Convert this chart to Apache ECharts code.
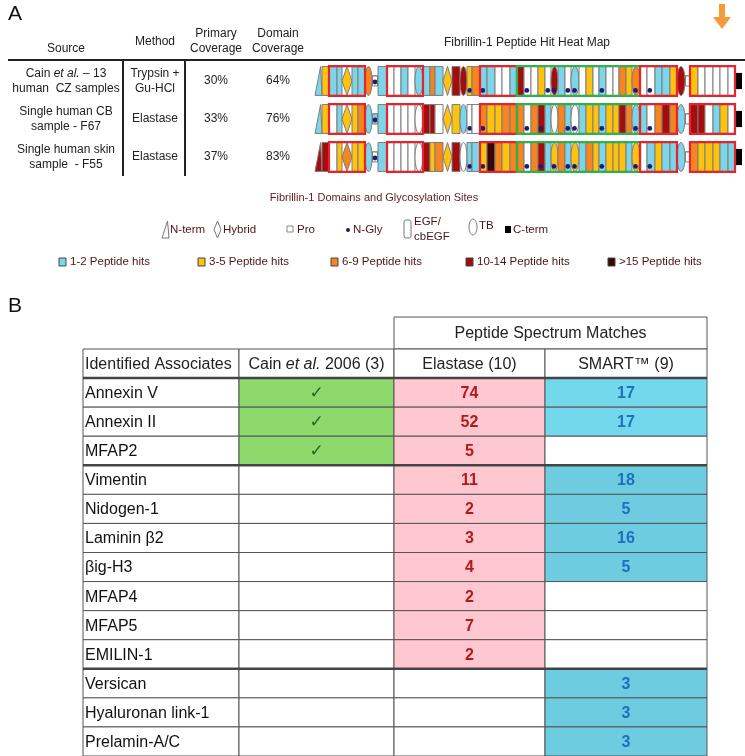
<!DOCTYPE html>
<html>
<head>
<meta charset="utf-8">
<script src="https://cdn.jsdelivr.net/npm/echarts@6/dist/echarts.min.js"></script>
<style>
  html, body { margin: 0; padding: 0; background: #fff; }
  #chart { width: 745px; height: 756px; }
</style>
</head>
<body>
<div id="chart"></div>
<script>
// ---------------- Part A: fibrillin-1 peptide hit map ----------------
const samples = ['CZ', 'CB', 'Skin'];
const sourceLines = [['{n|Cain }{i|et al.}{n| – 13}', 'human  CZ samples'], ['Single human CB', 'sample - F67'], ['Single human skin', 'sample  - F55']];
const methodLines = [['Trypsin +', 'Gu-HCl'], ['Elastase'], ['Elastase']];
const primaryCoverage = ['30%', '33%', '37%'];
const domainCoverage = ['64%', '76%', '83%'];

// N = N-term, E = EGF/cbEGF, H = hybrid, T = TB, P = Pro, C = C-term
const domainTypes = ['N','E', 'E','E','H','E','E', 'T','P','E', 'E','E','E','E','T',
  'E','E','E','H','E','T','E','E', 'E','E','E','E','E',
  'E','E','E','E','E','T','E','E','T','E','E','E','E','E','E','E','E','T',
  'E','E','E','E','E','T','P', 'E','E','E','E','E','E', 'C'];
const domainWidths = [7,7, 8,5,10,6,7, 7,6,9, 7,7,7,7,8,
  7,5,8,9,8,7,5,8, 7,8,7,8,7,
  7,7,7,7,6,7,7,6,8,7,7,6,7,7,6,7,6,8,
  7,8,7,8,7,8,5, 8,7,8,7,8,7, 7];
// hit level: 0 none, 1 = 1-2, 2 = 3-5, 3 = 6-9, 4 = 10-14, 5 = >15
const hitsCZ = [1,2, 1,1,2,1,1, 3,0,1, 0,0,1,0,1,
  1,3,1,2,4,4,2,3, 1,1,0,0,1,
  4,0,0,2,0,4,1,0,1,0,2,0,1,0,0,3,2,3,
  0,0,1,1,2,4,0, 2,0,0,0,0,0, 0];
const hitsCB = [1,2, 0,1,2,2,3, 1,1,1, 0,0,0,0,0,
  4,4,0,2,2,1,0,0, 3,2,2,3,3,
  3,0,3,4,1,0,3,1,0,1,2,2,1,2,2,4,3,1,
  1,0,3,4,3,1,0, 4,4,0,1,2,0, 0];
const hitsSkin = [4,4, 0,2,3,2,2, 1,0,1, 0,0,0,0,0,
  4,2,3,2,4,0,1,1, 2,5,3,2,3,
  3,0,3,4,1,2,3,1,2,1,3,2,1,2,2,2,1,2,
  0,1,2,1,1,1,0, 3,2,2,2,1,1, 0];
const glycoCZ = [8,21,23,29,32,33,35,36,40,45,47];
const glycoCB = [8,21,23,29,31,35,36,40,45,47];
const glycoSkin = [8,21,23,29,31,33,35,36,40,45,47];
// boxed domain groups [first, last, colour]
const boxGroups = [[2,6,'red'],[10,14,'red'],[23,27,'red'],[28,45,'green'],[46,50,'red'],[53,58,'red']];

// ---------------- Part B: associated proteins ----------------
const associates = ['Annexin V','Annexin II','MFAP2','Vimentin','Nidogen-1','Laminin β2','βig-H3','MFAP4','MFAP5','EMILIN-1','Versican','Hyaluronan link-1','Prelamin-A/C'];
const cain2006 = [true,true,true,false,false,false,false,false,false,false,false,false,false];
const elastasePSM = [74,52,5,11,2,3,4,2,7,2,null,null,null];
const smartPSM = [17,17,null,18,5,16,5,null,null,null,3,3,3];
const tableHeaders = ['Identified Associates', '{n|Cain }{i|et al.}{n| 2006 (3)}', 'Elastase (10)', 'SMART™ (9)'];
const superHeader = 'Peptide Spectrum Matches';

// ---------------- styling / layout ----------------
const F = '"Liberation Sans", Arial, sans-serif';
const hitColors = ['#ffffff', '#7dd5e9', '#ffc20e', '#f6841f', '#a30d0d', '#3b0505'];
const boxColors = { red: '#e8232b', green: '#2eb24b' };
const stripStart = 315;
const labelCols = [66, 155, 216, 278];
const colEdges = [0, 156, 311, 462, 624];
const TF = 16; // table font size

const hitRows = [hitsCZ, hitsCB, hitsSkin];
const glycoRows = [glycoCZ, glycoCB, glycoSkin];
const domainStart = [];
domainWidths.reduce((acc, w, i) => { domainStart[i] = acc; return acc + w; }, stripStart);

const heatItems = [];
samples.forEach((s, r) => {
  domainTypes.forEach((t, i) => {
    heatItems.push([domainStart[i], r, domainWidths[i], i, hitRows[r][i], glycoRows[r].includes(i) ? 1 : 0]);
  });
});
const boxItems = [];
samples.forEach((s, r) => {
  boxGroups.forEach(([a, b, c], k) => {
    boxItems.push([domainStart[a], r, domainStart[b] + domainWidths[b], k]);
  });
});

// table cells
const tableCells = [];
tableCells.push({ c0: 2, c1: 4, y0: -1.1, y1: 0, text: superHeader, fill: '#fff', color: '#222', bold: false });
tableHeaders.forEach((h, c) => {
  tableCells.push({ c0: c, c1: c + 1, y0: 0, y1: 1, text: h, fill: '#fff', color: '#222', bold: false, align: c === 0 ? 'left' : 'center' });
});
associates.forEach((name, i) => {
  const y = i + 1;
  tableCells.push({ c0: 0, c1: 1, y0: y, y1: y + 1, text: name, fill: '#fff', color: '#111', bold: false, align: 'left' });
  tableCells.push({ c0: 1, c1: 2, y0: y, y1: y + 1, text: cain2006[i] ? '✓' : '', fill: cain2006[i] ? '#8dd96c' : '#fff', color: '#1d6a1d', check: true });
  tableCells.push({ c0: 2, c1: 3, y0: y, y1: y + 1, text: elastasePSM[i] == null ? '' : String(elastasePSM[i]), fill: elastasePSM[i] == null ? '#fff' : '#ffc8d0', color: '#b3191b', bold: true });
  tableCells.push({ c0: 3, c1: 4, y0: y, y1: y + 1, text: smartPSM[i] == null ? '' : String(smartPSM[i]), fill: smartPSM[i] == null ? '#fff' : (i < 2 ? '#74d8ec' : '#6dcce0'), color: '#1f6fbf', bold: true });
});
const ruleRows = [1, 4, 11];

const richNI = (size, color) => ({
  n: { fontSize: size, fontFamily: F, fill: color },
  i: { fontSize: size, fontFamily: F, fill: color, fontStyle: 'italic' }
});

function textEl(x, y, text, size, color, align, extra) {
  return Object.assign({
    type: 'text',
    style: { text: text, x: x, y: y, fontSize: size, fontFamily: F, fill: color,
      align: align || 'center', textAlign: align || 'center', verticalAlign: 'middle', textVerticalAlign: 'middle' }
  }, extra || {});
}

// ---------------- render functions ----------------
function renderDomain(params, api) {
  const x0v = api.value(0), row = api.value(1), w = api.value(2), idx = api.value(3), lvl = api.value(4), gly = api.value(5);
  const p0 = api.coord([x0v, row]);
  const p1 = api.coord([x0v + w, row]);
  const h = api.size([0, 1])[1] * 0.76;
  const cy = p0[1], top = cy - h / 2, bot = cy + h / 2, x0 = p0[0], x1 = p1[0], cx = (x0 + x1) / 2;
  const fill = hitColors[lvl];
  const stroke = { stroke: '#7d7d7d', lineWidth: 1, fill: fill };
  const t = domainTypes[idx];
  const ch = [];
  if (t === 'E') {
    ch.push({ type: 'rect', shape: { x: x0, y: top, width: x1 - x0, height: h }, style: stroke });
  } else if (t === 'H') {
    ch.push({ type: 'polygon', shape: { points: [[x0, cy], [cx, top], [x1, cy], [cx, bot]] }, style: stroke });
  } else if (t === 'T') {
    ch.push({ type: 'ellipse', shape: { cx: cx, cy: cy, rx: (x1 - x0) / 2, ry: h / 2 }, style: stroke });
  } else if (t === 'N') {
    ch.push({ type: 'polygon', shape: { points: [[x0, bot], [x0 + (x1 - x0) * 0.8, top], [x1, bot]] }, style: stroke });
  } else if (t === 'P') {
    ch.push({ type: 'line', shape: { x1: x0, y1: cy - 5, x2: x1, y2: cy - 5 }, style: { stroke: '#555', lineWidth: 1 } });
    ch.push({ type: 'rect', shape: { x: x0 + 0.5, y: cy - 5, width: x1 - x0 - 1, height: 10 }, style: stroke });
  } else if (t === 'C') {
    ch.push({ type: 'rect', shape: { x: x0 + 1, y: cy - h * 0.28, width: x1 - x0 - 1, height: h * 0.56 }, style: { fill: '#000' } });
  }
  if (gly) {
    const gx = t === 'P' ? cx : (t === 'T' ? cx - 0.5 : x0 + 2.8);
    const gy = t === 'P' ? cy + 1 : bot - 5;
    ch.push({ type: 'circle', shape: { cx: gx, cy: gy, r: 2.4 }, style: { fill: '#1d1d6e' } });
  }
  return { type: 'group', children: ch };
}

function renderBox(params, api) {
  const row = api.value(1);
  const p0 = api.coord([api.value(0), row]);
  const p1 = api.coord([api.value(2), row]);
  const h = api.size([0, 1])[1] * 0.76;
  const col = boxColors[boxGroups[api.value(3)][2]];
  return { type: 'rect', shape: { x: p0[0], y: p0[1] - h / 2 - 0.5, width: p1[0] - p0[0], height: h + 1 },
    style: { fill: 'none', stroke: col, lineWidth: 2.2 } };
}

function renderRowLabels(params, api) {
  const r = api.value(0);
  const ch = [];
  const cols = [sourceLines[r], methodLines[r], [primaryCoverage[r]], [domainCoverage[r]]];
  cols.forEach((lines, c) => {
    const p = api.coord([labelCols[c], r]);
    lines.forEach((ln, k) => {
      const y = p[1] + (k - (lines.length - 1) / 2) * 15.5;
      ch.push({ type: 'text', style: { text: ln, x: p[0], y: y, fontSize: 12, fontFamily: F, fill: '#222',
        align: 'center', verticalAlign: 'middle', rich: richNI(12, '#222') } });
    });
  });
  return { type: 'group', children: ch };
}

function renderCell(params, api) {
  const c = tableCells[api.value(2)];
  const p0 = api.coord([colEdges[c.c0], c.y0]);
  const p1 = api.coord([colEdges[c.c1], c.y1]);
  const ch = [{ type: 'rect', shape: { x: p0[0], y: p0[1], width: p1[0] - p0[0], height: p1[1] - p0[1] },
    style: { fill: c.fill, stroke: '#555', lineWidth: 1 } }];
  if (c.text) {
    const left = c.align === 'left';
    ch.push({ type: 'text', style: {
      text: c.text, x: left ? p0[0] + 2 : (p0[0] + p1[0]) / 2, y: (p0[1] + p1[1]) / 2 + 1,
      fontSize: c.check ? 17 : TF, fontFamily: c.check ? '"DejaVu Sans", sans-serif' : F,
      fontWeight: c.bold || c.check ? 'bold' : 'normal', fill: c.color,
      align: left ? 'left' : 'center', verticalAlign: 'middle', rich: richNI(TF, c.color) } });
  }
  return { type: 'group', children: ch };
}

function renderRule(params, api) {
  const y = api.value(1);
  const p0 = api.coord([0, y]);
  const p1 = api.coord([colEdges[colEdges.length - 1], y]);
  return { type: 'line', shape: { x1: p0[0], y1: p0[1], x2: p1[0], y2: p1[1] }, style: { stroke: '#444', lineWidth: 2.4 } };
}

// ---------------- static annotations ----------------
const legendShapes = [
  { type: 'polygon', shape: { points: [[162, 238], [167.5, 221], [169, 238]] }, style: { fill: '#fff', stroke: '#777' } },
  { type: 'polygon', shape: { points: [[217.5, 221], [221, 229.5], [217.5, 238], [214, 229.5]] }, style: { fill: '#fff', stroke: '#777' } },
  { type: 'rect', shape: { x: 287, y: 226, width: 6, height: 6 }, style: { fill: '#fff', stroke: '#888' } },
  { type: 'circle', shape: { cx: 348, cy: 230, r: 2 }, style: { fill: '#1d1d6e' } },
  { type: 'rect', shape: { x: 404, y: 220, width: 7, height: 18, r: 2 }, style: { fill: '#fff', stroke: '#777' } },
  { type: 'ellipse', shape: { cx: 473, cy: 227, rx: 4, ry: 8 }, style: { fill: '#fff', stroke: '#777' } },
  { type: 'rect', shape: { x: 505, y: 226, width: 6, height: 7 }, style: { fill: '#000' } }
];
const legendLabels = [[170, 230, 'N-term'], [223, 230, 'Hybrid'], [297, 230, 'Pro'], [353, 230, 'N-Gly'],
  [414, 222, 'EGF/'], [414, 237, 'cbEGF'], [479, 226, 'TB'], [513, 230, 'C-term']];
const hitLegend = [[59, '1-2 Peptide hits'], [198, '3-5 Peptide hits'], [331, '6-9 Peptide hits'], [466, '10-14 Peptide hits'], [608, '>15 Peptide hits']];

const graphics = [
  textEl(8, 14, 'A', 21, '#111', 'left'),
  textEl(8, 306, 'B', 21, '#111', 'left'),
  textEl(66, 49, 'Source', 12, '#222'),
  textEl(155, 42, 'Method', 12, '#222'),
  textEl(216, 34, 'Primary', 12, '#222'),
  textEl(216, 49, 'Coverage', 12, '#222'),
  textEl(278, 34, 'Domain', 12, '#222'),
  textEl(278, 49, 'Coverage', 12, '#222'),
  textEl(527, 43, 'Fibrillin-1 Peptide Hit Heat Map', 12, '#222'),
  { type: 'line', shape: { x1: 8, y1: 60, x2: 745, y2: 60 }, style: { stroke: '#222', lineWidth: 2 } },
  { type: 'line', shape: { x1: 123, y1: 60, x2: 123, y2: 176 }, style: { stroke: '#222', lineWidth: 2 } },
  { type: 'line', shape: { x1: 185, y1: 60, x2: 185, y2: 176 }, style: { stroke: '#222', lineWidth: 2 } },
  { type: 'polygon', shape: { points: [[719, 4], [725, 4], [725, 17], [731, 17], [722, 29], [713, 17], [719, 17]] }, style: { fill: '#f79a3c' } },
  textEl(374, 198, 'Fibrillin-1 Domains and Glycosylation Sites', 11, '#5e1c1c')
].concat(legendShapes)
 .concat(legendLabels.map(([x, y, s]) => textEl(x, y, s, 11.5, '#4a1515', 'left')))
 .concat(hitLegend.map(([x], k) => ({ type: 'rect', shape: { x: x, y: 258, width: 7, height: 8 }, style: { fill: hitColors[k + 1], stroke: '#444' } })))
 .concat(hitLegend.map(([x, s]) => textEl(x + 11, 262, s, 11.5, '#4a1515', 'left')));

const chart = echarts.init(document.getElementById('chart'));
chart.setOption({
  animation: false,
  backgroundColor: '#fff',
  grid: [
    { left: 0, top: 62, width: 745, height: 114 },
    { left: 83, top: 349, width: 624, height: 407 }
  ],
  xAxis: [
    { gridIndex: 0, type: 'value', min: 0, max: 745, show: false },
    { gridIndex: 1, type: 'value', min: 0, max: 624, show: false }
  ],
  yAxis: [
    { gridIndex: 0, type: 'category', data: samples, inverse: true, show: false },
    { gridIndex: 1, type: 'value', min: 0, max: 14, inverse: true, show: false }
  ],
  graphic: graphics,
  series: [
    { type: 'custom', name: 'domains', xAxisIndex: 0, yAxisIndex: 0, renderItem: renderDomain, data: heatItems, silent: true },
    { type: 'custom', name: 'boxes', xAxisIndex: 0, yAxisIndex: 0, renderItem: renderBox, data: boxItems, silent: true },
    { type: 'custom', name: 'rowLabels', xAxisIndex: 0, yAxisIndex: 0, renderItem: renderRowLabels,
      encode: { x: -1, y: 0 }, data: samples.map((s, r) => [r]), silent: true },
    { type: 'custom', name: 'table', xAxisIndex: 1, yAxisIndex: 1, renderItem: renderCell,
      data: tableCells.map((c, i) => [colEdges[c.c0], c.y0, i]), silent: true },
    { type: 'custom', name: 'rules', xAxisIndex: 1, yAxisIndex: 1, renderItem: renderRule,
      data: ruleRows.map(y => [0, y]), silent: true }
  ]
});
</script>
</body>
</html>
